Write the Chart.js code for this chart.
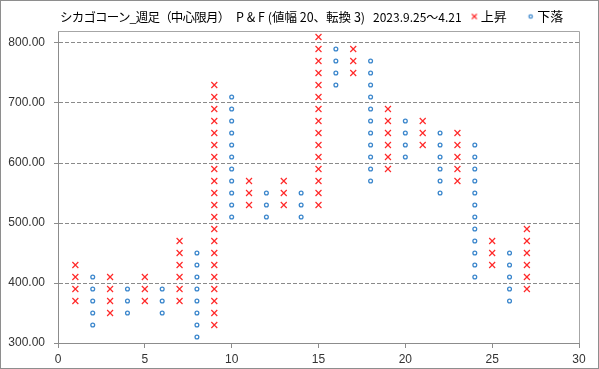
<!DOCTYPE html>
<html>
<head>
<meta charset="utf-8">
<script src="https://cdn.jsdelivr.net/npm/chart.js@4.4.1/dist/chart.umd.min.js"></script>
<style>
    body { margin: 0; background: #fff; }
    #wrap { position: relative; width: 599px; height: 369px; }
    .t {
        position: absolute; top: 9px;
        font: 12.5px "Noto Sans CJK JP", sans-serif; line-height: 16px;
        color: #000; white-space: pre;
    }
</style>
</head>
<body>
<div id="wrap">
    <canvas id="chart" width="599" height="369"></canvas>
    <span class="t" style="left:60px; letter-spacing:-0.8px">シカゴコーン_週足（中心限月）</span>
    <span class="t" style="left:236px">P &amp; F (値幅 20、転換 3)</span>
    <span class="t" style="left:373px; font-size:12px">2023.9.25～4.21</span>
</div>
<script>
// P&F columns: X = rising, O = falling (box 20, reversal 3)
const risingCols = [1, 3, 5, 7, 9, 11, 13, 15, 17, 19, 21, 23, 25, 27];
const risingBoxes = [
    [370, 390, 410, 430],
    [350, 370, 390, 410],
    [370, 390, 410],
    [370, 390, 410, 430, 450, 470],
    [330, 350, 370, 390, 410, 430, 450, 470, 490, 510, 530, 550, 570, 590, 610, 630, 650, 670, 690, 710, 730],
    [530, 550, 570],
    [530, 550, 570],
    [530, 550, 570, 590, 610, 630, 650, 670, 690, 710, 730, 750, 770, 790, 810],
    [750, 770, 790],
    [590, 610, 630, 650, 670, 690],
    [630, 650, 670],
    [570, 590, 610, 630, 650],
    [430, 450, 470],
    [390, 410, 430, 450, 470, 490],
];
const fallingCols = [2, 4, 6, 8, 10, 12, 14, 16, 18, 20, 22, 24, 26];
const fallingBoxes = [
    [330, 350, 370, 390, 410],
    [350, 370, 390],
    [350, 370, 390],
    [310, 330, 350, 370, 390, 410, 430, 450],
    [510, 530, 550, 570, 590, 610, 630, 650, 670, 690, 710],
    [510, 530, 550],
    [510, 530, 550],
    [730, 750, 770, 790],
    [570, 590, 610, 630, 650, 670, 690, 710, 730, 750, 770],
    [610, 630, 650, 670],
    [550, 570, 590, 610, 630, 650],
    [410, 430, 450, 470, 490, 510, 530, 550, 570, 590, 610, 630],
    [370, 390, 410, 430, 450],
];
const xTicks = [0, 5, 10, 15, 20, 25, 30];
const yTicks = [300, 400, 500, 600, 700, 800];

const RED = '#ff2a2a';
const BLUE = '#3a86cc';
const AXIS = '#8c8c8c';

function toPoints(cols, boxes) {
    const pts = [];
    cols.forEach((c, i) => boxes[i].forEach((v) => pts.push({ x: c, y: v })));
    return pts;
}

// small legend marker, drawn right of its image centre so it sits close to the text
function legendMarker(kind) {
    const c = document.createElement('canvas');
    c.width = 16; c.height = 8;
    const g = c.getContext('2d');
    g.lineWidth = 1.2;
    if (kind === 'x') {
        g.strokeStyle = RED;
        g.beginPath();
        g.moveTo(9.5, 1.5); g.lineTo(14.5, 6.5);
        g.moveTo(14.5, 1.5); g.lineTo(9.5, 6.5);
        g.stroke();
    } else {
        g.strokeStyle = BLUE;
        g.beginPath();
        g.arc(12, 4, 1.7, 0, Math.PI * 2);
        g.stroke();
    }
    return c;
}

const frame = {
    id: 'frame',
    beforeDatasetsDraw(chart) {
        const { ctx, chartArea: a } = chart;
        ctx.save();
        ctx.strokeStyle = '#a6a6a6';
        ctx.lineWidth = 1;
        ctx.beginPath();
        ctx.moveTo(a.left, Math.round(a.top) + 0.5);
        ctx.lineTo(Math.round(a.right) + 0.5, Math.round(a.top) + 0.5);
        ctx.lineTo(Math.round(a.right) + 0.5, a.bottom);
        ctx.stroke();
        ctx.restore();
    },
    afterDraw(chart) {
        const ctx = chart.ctx;
        ctx.save();
        ctx.strokeStyle = '#8e8e8e';
        ctx.strokeRect(0.5, 0.5, chart.width - 1, chart.height - 1);
        ctx.restore();
    },
};

const markers = { '上昇': legendMarker('x'), '下落': legendMarker('o') };

new Chart(document.getElementById('chart'), {
    type: 'scatter',
    data: {
        datasets: [
            {
                label: '上昇',
                data: toPoints(risingCols, risingBoxes),
                pointStyle: 'crossRot',
                pointRadius: 4.2,
                borderColor: RED,
                backgroundColor: RED,
                borderWidth: 1.2,
            },
            {
                label: '下落',
                data: toPoints(fallingCols, fallingBoxes),
                pointStyle: 'circle',
                pointRadius: 1.9,
                borderColor: BLUE,
                backgroundColor: '#fff',
                borderWidth: 1.3,
            },
        ],
    },
    options: {
        responsive: false,
        animation: false,
        events: [],
        layout: { padding: { top: 0, right: 20, bottom: 0, left: 0 } },
        plugins: {
            tooltip: { enabled: false },
            legend: {
                position: 'top',
                align: 'end',
                maxHeight: 31,
                labels: {
                    usePointStyle: true,
                    boxWidth: 8,
                    boxHeight: 8,
                    padding: 10,
                    color: '#000',
                    font: { family: '"Noto Sans CJK JP", sans-serif', size: 13 },
                    generateLabels(chart) {
                        const items = Chart.defaults.plugins.legend.labels.generateLabels(chart);
                        items.forEach((it) => {
                            it.pointStyle = markers[it.text];
                            it.text = it.text + '  ';
                        });
                        return items;
                    },
                },
            },
        },
        scales: {
            x: {
                type: 'linear',
                min: 0,
                max: 30,
                afterBuildTicks: (s) => { s.ticks = xTicks.map((v) => ({ value: v })); },
                afterFit: (s) => { s.height = 26; },
                grid: { drawOnChartArea: false, tickLength: 5, tickColor: AXIS },
                border: { color: AXIS },
                ticks: {
                    padding: 4,
                    color: '#333',
                    font: { family: '"Liberation Sans", Arial, sans-serif', size: 12 },
                },
            },
            y: {
                min: 300,
                max: 820,
                afterBuildTicks: (s) => { s.ticks = yTicks.map((v) => ({ value: v })); },
                afterFit: (s) => { s.width = 58; },
                grid: {
                    color: '#8a8a8a',
                    tickBorderDash: [],
                    tickLength: 4,
                    tickColor: AXIS,
                },
                border: { color: AXIS, dash: [4, 2] },
                ticks: {
                    padding: 9,
                    color: '#333',
                    callback: (v) => v.toFixed(2),
                    font: { family: '"Liberation Sans", Arial, sans-serif', size: 12 },
                },
            },
        },
    },
    plugins: [frame],
});
</script>
</body>
</html>
